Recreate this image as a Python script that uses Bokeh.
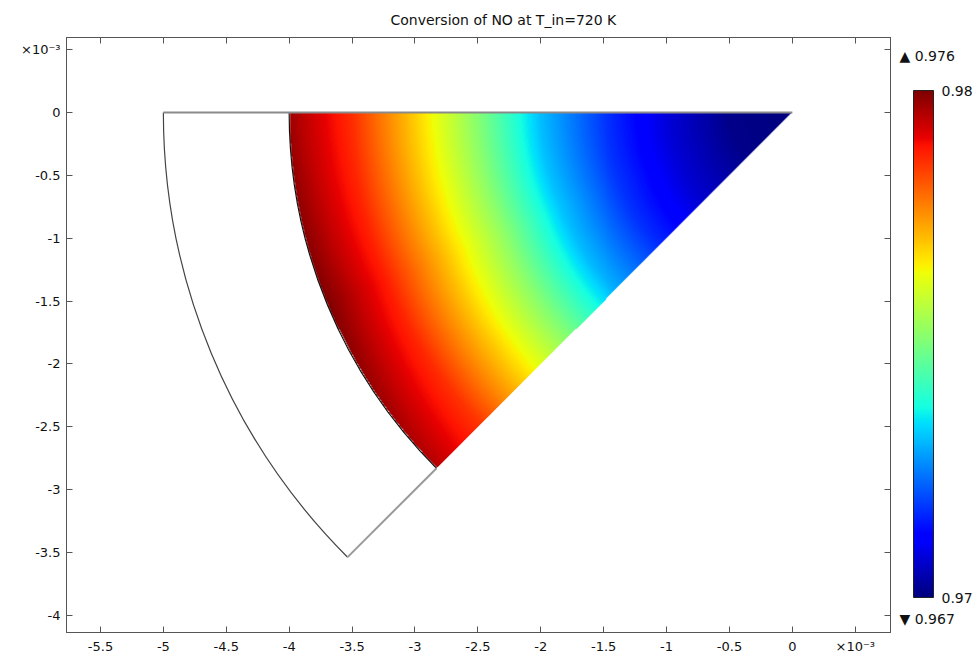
import numpy as np
from bokeh.plotting import figure
from bokeh.layouts import row
from bokeh.models import (LinearColorMapper, ColorBar, FixedTicker, LinearAxis, Label,
                          CustomJSTickFormatter, Range1d)
from bokeh.embed import file_html
from bokeh.resources import INLINE

# ---------------- data (lengths in units of 1e-3 m) ----------------
title_text = "Conversion of NO at T_in=720 K"
x_ticks = [-5.5, -5.0, -4.5, -4.0, -3.5, -3.0, -2.5, -2.0, -1.5, -1.0, -0.5, 0.0, 0.5]
y_ticks = [-4.0, -3.5, -3.0, -2.5, -2.0, -1.5, -1.0, -0.5, 0.0, 0.5]
exp_label = "×10⁻³"

# geometry of the wedge
r_inner = 4.0            # radius of the reacting (coloured) domain
r_outer = 5.0            # radius of the outer (uncoloured) ring
theta_start = 180.0      # deg
theta_end = 225.0        # deg

# conversion of NO read off along three rays of the wedge
r_profile = [0.0, 0.5, 1.0, 1.5, 2.0, 2.5, 3.0, 3.5, 4.0]
theta_profile = [180.0, 202.5, 225.0]
conv_180 = [0.9700, 0.9701, 0.9708, 0.9718, 0.9731, 0.9751, 0.9769, 0.9786, 0.9797]
conv_202 = [0.9700, 0.9701, 0.9708, 0.9718, 0.9732, 0.9753, 0.9771, 0.9788, 0.9800]
conv_225 = [0.9700, 0.9701, 0.9707, 0.9717, 0.9730, 0.9750, 0.9768, 0.9785, 0.9795]

cbar_low, cbar_high = 0.97, 0.98
cbar_ticks = [0.97, 0.98]
data_max_text = "▲ 0.976"
data_min_text = "▼ 0.967"

# ---------------- jet palette ----------------
def jet_palette(n=256):
    t = np.linspace(0, 1, n)
    r = np.interp(t, [0, 0.35, 0.66, 0.89, 1], [0, 0, 1, 1, 0.5])
    g = np.interp(t, [0, 0.125, 0.375, 0.64, 0.91, 1], [0, 0, 1, 1, 0, 0])
    b = np.interp(t, [0, 0.11, 0.34, 0.65, 1], [0.5, 1, 1, 0, 0])
    return ["#%02x%02x%02x" % (int(round(a * 255)), int(round(c * 255)), int(round(d * 255)))
            for a, c, d in zip(r, g, b)]

jet = jet_palette()
mapper = LinearColorMapper(palette=jet, low=cbar_low, high=cbar_high,
                           low_color=jet[0], high_color=jet[-1], nan_color=(0, 0, 0, 0))

# ---------------- field on a raster covering the coloured sector ----------------
y_bottom = r_inner * np.sin(np.radians(theta_end))
nx, ny = 504, 357
xs = np.linspace(-r_inner, 0.0, nx)
ys = np.linspace(y_bottom, 0.0, ny)
X, Y = np.meshgrid(xs, ys)
R = np.hypot(X, Y)
TH = np.degrees(np.arctan2(Y, X)) % 360.0
profiles = [np.interp(R, r_profile, c) for c in (conv_180, conv_202, conv_225)]
w1 = np.clip((TH - theta_profile[0]) / (theta_profile[1] - theta_profile[0]), 0, 1)
w2 = np.clip((TH - theta_profile[1]) / (theta_profile[2] - theta_profile[1]), 0, 1)
V = np.where(TH <= theta_profile[1],
             profiles[0] + (profiles[1] - profiles[0]) * w1,
             profiles[1] + (profiles[2] - profiles[1]) * w2)
inside = (R <= r_inner) & (TH >= theta_start - 1e-9) & (TH <= theta_end + 1e-9)
V = np.where(inside, V, np.nan)

# ---------------- main figure ----------------
FONT = "DejaVu Sans"
P_W = 898
FRAME_BOTTOM = 632   # canvas pixel row of the frame's bottom edge
p = figure(width=P_W, height=657, output_backend="svg", toolbar_location=None,
           x_range=Range1d(-5.77, 0.78), y_range=Range1d(-4.135, 0.596),
           min_border_left=66, min_border_right=8, min_border_top=37, min_border_bottom=25)
p.grid.visible = False
p.outline_line_color = "#555555"
p.background_fill_color = "white"
p.border_fill_color = "white"

p.title.text = title_text
p.title.align = "left"
p.title.offset = 324
p.title.standoff = 19
p.title.text_font = FONT
p.title.text_font_size = "14px"
p.title.text_font_style = "normal"
p.title.text_color = "#111111"

p.image(image=[V], x=-r_inner, y=y_bottom, dw=r_inner, dh=-y_bottom, color_mapper=mapper)

# geometry edges
th0, th1 = np.radians(theta_start), np.radians(theta_end)
p.arc(x=0, y=0, radius=r_outer, start_angle=th0, end_angle=th1, line_color="#444444", line_width=1.2)
p.arc(x=0, y=0, radius=r_inner, start_angle=th0, end_angle=th1, line_color="#111111", line_width=1.2)
p.segment(x0=[-r_outer], y0=[0.0], x1=[0.0], y1=[0.0], line_color="#8a8a8a", line_width=2)
p.segment(x0=[r_outer * np.cos(th1)], y0=[r_outer * np.sin(th1)],
          x1=[r_inner * np.cos(th1)], y1=[r_inner * np.sin(th1)], line_color="#9a9a9a", line_width=2)

fmt = CustomJSTickFormatter(args=dict(el=exp_label), code="""
    const v = Math.round(tick * 10) / 10;
    if (Math.abs(v - 0.5) < 1e-9) return el;
    return String(v == 0 ? 0 : v);
""")
empty = CustomJSTickFormatter(code="return '';")

def style_axis(ax, formatter, ticks):
    ax.ticker = FixedTicker(ticks=ticks)
    ax.formatter = formatter
    ax.major_tick_in = 6
    ax.major_tick_out = 0
    ax.minor_tick_line_color = None
    ax.axis_line_color = "#555555"
    ax.major_tick_line_color = "#555555"
    ax.major_label_text_font = FONT
    ax.major_label_text_font_size = "13px"
    ax.major_label_text_color = "#111111"

style_axis(p.xaxis[0], fmt, x_ticks)
style_axis(p.yaxis[0], fmt, y_ticks)
p.xaxis[0].major_label_standoff = 6
p.yaxis[0].major_label_standoff = 6

top_ax = LinearAxis()
right_ax = LinearAxis()
style_axis(top_ax, empty, x_ticks)
style_axis(right_ax, empty, y_ticks)
top_ax.major_label_standoff = 0
right_ax.major_label_standoff = 0
p.add_layout(top_ax, "above")
p.add_layout(right_ax, "right")

# ---------------- colour-bar panel ----------------
# (its frame is aligned with the main frame; screen offsets measured from that frame's bottom)
Q_W = 976 - P_W
q = figure(width=Q_W, height=657, output_backend="svg", toolbar_location=None,
           title=None, x_range=Range1d(0, 1), y_range=Range1d(0, 1),
           x_axis_location=None, y_axis_location=None,
           min_border_left=0, min_border_right=0, min_border_top=0, min_border_bottom=0)
q.grid.visible = False
q.outline_line_color = None
q.background_fill_color = "white"
q.border_fill_color = "white"

cb = ColorBar(color_mapper=mapper, ticker=FixedTicker(ticks=cbar_ticks), width=20, height=507,
              location=(913 - P_W, FRAME_BOTTOM - 597), padding=0, margin=0, background_fill_alpha=0,
              border_line_color=None, bar_line_color="#222222", major_tick_line_color=None,
              major_label_text_font=FONT, major_label_text_font_size="14px", label_standoff=8,
              major_label_text_color="#111111")
q.add_layout(cb, "center")

q.add_layout(Label(x=1, y=FRAME_BOTTOM - 55, x_units="screen", y_units="screen", text=data_max_text,
                   text_font=FONT, text_font_size="14px", text_baseline="middle", text_color="#111111"))
q.add_layout(Label(x=1, y=FRAME_BOTTOM - 618, x_units="screen", y_units="screen", text=data_min_text,
                   text_font=FONT, text_font_size="14px", text_baseline="middle", text_color="#111111"))

layout = row(p, q, spacing=0)
open("out.html", "w").write(file_html(layout, INLINE))
